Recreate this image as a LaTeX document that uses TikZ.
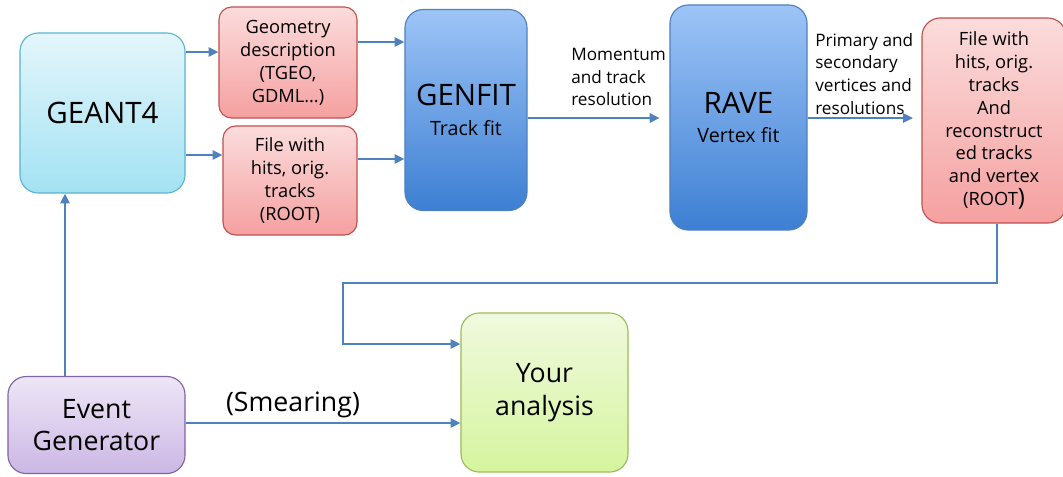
\documentclass[tikz,border=0pt]{standalone}
\usepackage{fontspec}
\setmainfont{Open Sans}
\usetikzlibrary{arrows.meta, calc, positioning}

\definecolor{flowblue}{HTML}{4F81BD}
\definecolor{cyantop}{HTML}{E4F6FB}
\definecolor{cyanbot}{HTML}{A3E2F3}
\definecolor{cyanline}{HTML}{5AB4CF}
\definecolor{pinktop}{HTML}{FBDCDC}
\definecolor{pinkbot}{HTML}{F5A0A0}
\definecolor{pinkline}{HTML}{C0504D}
\definecolor{bluetop}{HTML}{9DC4F6}
\definecolor{bluebot}{HTML}{3D7FD3}
\definecolor{blueline}{HTML}{4F81BD}
\definecolor{greentop}{HTML}{F0F9DE}
\definecolor{greenbot}{HTML}{D5F59E}
\definecolor{greenline}{HTML}{9BBB59}
\definecolor{violettop}{HTML}{EEE6F6}
\definecolor{violetbot}{HTML}{CBB7E5}
\definecolor{violetline}{HTML}{8064A2}

\newcommand{\smallfnt}{\fontsize{13}{16.3}\selectfont}
\newcommand{\lblfnt}{\fontsize{12.2}{16.3}\selectfont}
\newcommand{\midfnt}{\fontsize{14}{21}\selectfont}
\newcommand{\largefnt}{\fontsize{19}{23}\selectfont}
\newcommand{\hugefnt}{\fontsize{21}{25}\selectfont}

\begin{document}
\begin{tikzpicture}[x=0.025cm, y=-0.025cm,
    box/.style={line width=0.8pt, rounded corners=13pt, align=center, inner sep=0pt},
    cyanbox/.style={box, draw=cyanline, top color=cyantop, bottom color=cyanbot},
    pinkbox/.style={box, rounded corners=9pt, draw=pinkline, top color=pinktop, bottom color=pinkbot, font=\smallfnt},
    bluebox/.style={box, draw=blueline, top color=bluetop, bottom color=bluebot, font=\midfnt},
    greenbox/.style={box, draw=greenline, top color=greentop, bottom color=greenbot, font=\largefnt},
    violetbox/.style={box, draw=violetline, top color=violettop, bottom color=violetbot, font=\largefnt},
    lbl/.style={align=left, inner sep=0pt, font=\lblfnt},
    flow/.style={draw=flowblue, line width=1.6pt, -{Triangle[length=7pt,width=6.5pt]}}]
    \useasboundingbox (0,0) rectangle (1063,476);

    % Labels on the links (behind the boxes)
    \node[lbl, anchor=west] (momlbl) at (571,77) {Momentum\\and track\\resolution};
    \node[lbl, anchor=west] (primlbl) at (815,74) {Primary and\\secondary\\vertices and\\resolutions};
    \node[font=\largefnt, inner sep=0pt] (smearlbl) at (293,405) {(Smearing)};

    % Boxes
    \node[cyanbox, minimum width=4.125cm, minimum height=4cm, font=\hugefnt] (geant) at (102.5,113) {GEANT4};
    \node[pinkbox, minimum width=3.45cm, minimum height=2.775cm] (geom) at (288,62.5) {Geometry\\description\\(TGEO,\\GDML…)};
    \node[pinkbox, minimum width=3.35cm, minimum height=2.725cm] (hits) at (290,180.5) {File with\\hits, orig.\\tracks\\(ROOT)};
    \node[bluebox, minimum width=3.05cm, minimum height=5.025cm] (genfit) at (466,110) {{\hugefnt GENFIT}\\Track fit};
    \node[bluebox, minimum width=3.425cm, minimum height=5.625cm] (rave) at (738.5,117.5) {{\hugefnt RAVE}\\Vertex fit};
    \node[pinkbox, rounded corners=13pt, minimum width=3.6cm, minimum height=5.125cm] (outfile) at (994,120.5)
        {File with\\hits, orig.\\tracks\\And\\reconstruct\\ed tracks\\and vertex\\(ROOT{\fontsize{17}{20}\selectfont )}};
    \node[greenbox, minimum width=4.175cm, minimum height=3.975cm] (analysis) at (544.5,392.5) {Your\\analysis};
    \node[violetbox, minimum width=4.425cm, minimum height=2.425cm] (evgen) at (96.5,425) {Event\\Generator};

    % Links
    \draw[flow] (geant.east |- 0,52) -- (geom.west |- 0,52);
    \draw[flow] (geant.east |- 0,155) -- (hits.west |- 0,155);
    \draw[flow] (geom.east |- 0,42) -- (genfit.west |- 0,42);
    \draw[flow] (hits.east |- 0,159) -- (genfit.west |- 0,159);
    \draw[flow, shorten >=7pt] (genfit.east |- 0,118) -- (rave.west |- 0,118);
    \draw[flow, shorten >=6pt] (rave.east |- 0,118) -- (outfile.west |- 0,118);
    \coordinate (turn) at (343,283);
    \draw[flow] (outfile.south -| 997,0) |- (turn) |- (analysis.west |- 0,344);
    \draw[flow] (evgen.east |- 0,423) -- (analysis.west |- 0,423);
    \draw[flow] (evgen.north -| 65,0) -- (geant.south -| 65,0);
\end{tikzpicture}
\end{document}
